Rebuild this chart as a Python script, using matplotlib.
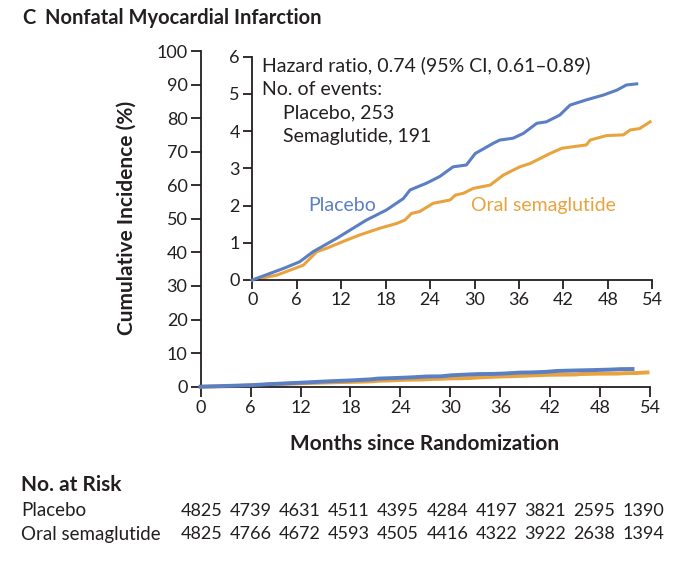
import matplotlib
matplotlib.use("Agg")
import matplotlib.pyplot as plt

plt.rcParams["font.family"] = ["Lato", "DejaVu Sans"]

# Kaplan-Meier style cumulative incidence (%)
placebo_t = [0, 4.2, 6.4, 8.2, 11.4, 13.6, 15.4, 18.1, 20.4, 21.3, 23.5, 25.3, 27.1, 28.9,
             30.1, 32.5, 33.4, 35.2, 36.6, 38.4, 39.7, 41.5, 42.9, 45.1, 47.4, 49.2, 50.5, 51.9]
placebo_y = [0, 0.31, 0.49, 0.76, 1.12, 1.39, 1.61, 1.88, 2.19, 2.42, 2.60, 2.78, 3.04, 3.09,
             3.40, 3.67, 3.76, 3.81, 3.94, 4.21, 4.25, 4.43, 4.70, 4.84, 4.97, 5.10, 5.24, 5.27]
sema_t = [0, 3.3, 6.9, 8.7, 10.0, 12.7, 14.5, 17.2, 19.5, 20.6, 21.5, 22.6, 24.4, 26.7, 27.4,
          28.5, 29.8, 32.1, 33.9, 36.1, 37.5, 39.3, 40.2, 41.8, 45.1, 45.6, 47.8, 50.1, 51.0,
          52.3, 53.7]
sema_y = [0, 0.13, 0.40, 0.76, 0.85, 1.07, 1.21, 1.39, 1.52, 1.61, 1.79, 1.84, 2.06, 2.15, 2.28,
          2.33, 2.46, 2.55, 2.82, 3.04, 3.13, 3.31, 3.40, 3.54, 3.63, 3.76, 3.88, 3.90, 4.03,
          4.07, 4.25]

months = [0, 6, 12, 18, 24, 30, 36, 42, 48, 54]
risk_placebo = [4825, 4739, 4631, 4511, 4395, 4284, 4197, 3821, 2595, 1390]
risk_sema = [4825, 4766, 4672, 4593, 4505, 4416, 4322, 3922, 2638, 1394]

blue = "#5B7FC3"
orange = "#E9A33E"
ink = "#231F20"
W, H = 694, 561

fig = plt.figure(figsize=(W / 100, H / 100), dpi=100)


def style_axes(ax, ticklen):
    for s in ["top", "right"]:
        ax.spines[s].set_visible(False)
    for s in ["left", "bottom"]:
        ax.spines[s].set_linewidth(1.3)
        ax.spines[s].set_color(ink)
    ax.tick_params(direction="out", length=ticklen, width=1.3, colors=ink,
                   labelsize=13, pad=2.5)


# main axes
ax = fig.add_axes([200.7 / W, 1 - 386.7 / H, (650 - 200.7) / W, (386.7 - 51) / H])
ax.plot(placebo_t, placebo_y, color=blue, lw=2.8, clip_on=False, zorder=3)
ax.plot(sema_t, sema_y, color=orange, lw=2.8, clip_on=False, zorder=2)
ax.set_xlim(0, 54)
ax.set_ylim(0, 100)
ax.set_xticks(months)
ax.set_yticks(range(0, 101, 10))
style_axes(ax, 7)

fig.text(425 / W, 1 - 444 / H, "Months since Randomization", fontsize=15,
         fontweight="bold", color=ink, ha="center", va="center")
fig.text(127 / W, 1 - 218 / H, "Cumulative Incidence (%)", fontsize=15,
         fontweight="bold", color=ink, ha="center", va="center", rotation=90)

# inset
ins = fig.add_axes([252.3 / W, 1 - 280 / H, (652.3 - 252.3) / W, (280 - 56.7) / H])
ins.plot(placebo_t, placebo_y, color=blue, lw=2.2, clip_on=False, zorder=3)
ins.plot(sema_t, sema_y, color=orange, lw=2.2, clip_on=False, zorder=2)
ins.set_xlim(0, 54)
ins.set_ylim(0, 6)
ins.set_xticks(months)
ins.set_yticks(range(0, 7))
style_axes(ins, 6.5)
ins.patch.set_alpha(0)

ins.text(1.3, 5.78, "Hazard ratio, 0.74 (95% CI, 0.61\u20130.89)", fontsize=14,
         color=ink, va="center")
ins.text(1.3, 5.12, "No. of events:", fontsize=14, color=ink, va="center")
ins.text(4.15, 4.5, "Placebo, 253", fontsize=14, color=ink, va="center")
ins.text(4.15, 3.86, "Semaglutide, 191", fontsize=14, color=ink, va="center")
ins.text(7.5, 2.0, "Placebo", fontsize=14, color=blue, va="center")
ins.text(29.5, 2.0, "Oral semaglutide", fontsize=14, color=orange, va="center")

# title
fig.text(22 / W, 1 - 18 / H, "C", fontsize=14.5, fontweight="bold", color=ink, va="center")
fig.text(45 / W, 1 - 18 / H, "Nonfatal Myocardial Infarction", fontsize=14.5,
         fontweight="bold", color=ink, va="center")

# number at risk table
fig.text(21 / W, 1 - 485 / H, "No. at Risk", fontsize=15, fontweight="bold",
         color=ink, va="center")
fig.text(21 / W, 1 - 510.7 / H, "Placebo", fontsize=13.5, color=ink, va="center")
fig.text(21 / W, 1 - 534.3 / H, "Oral semaglutide", fontsize=13.5, color=ink, va="center")
for k in range(len(months)):
    x = (201.7 + 49.1 * k) / W
    fig.text(x, 1 - 510.7 / H, str(risk_placebo[k]), fontsize=13, color=ink,
             va="center", ha="center")
    fig.text(x, 1 - 534.3 / H, str(risk_sema[k]), fontsize=13, color=ink,
             va="center", ha="center")

fig.savefig("out.png", dpi=100)
